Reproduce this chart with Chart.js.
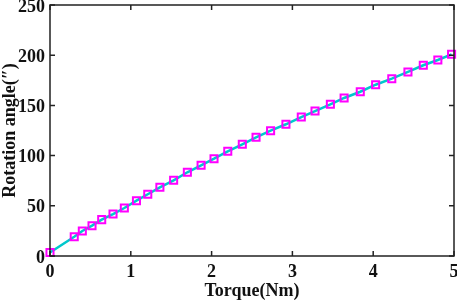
<!DOCTYPE html>
<html>
<head>
<meta charset="utf-8">
<script src="https://cdn.jsdelivr.net/npm/chart.js@4.4.1/dist/chart.umd.min.js"></script>
<style>
  html, body { margin: 0; padding: 0; background: #fff; overflow: hidden; }
  #wrap { width: 461px; height: 304px; position: relative; top: -2px; }
</style>
</head>
<body>
<div id="wrap"><canvas id="chart"></canvas></div>
<script>
'use strict';

/* ── Data ──────────────────────────────────────────────────── */
const torque = [0, 0.30, 0.40, 0.52, 0.64, 0.78, 0.92, 1.07, 1.21, 1.36,
  1.53, 1.70, 1.87, 2.03, 2.20, 2.38, 2.55, 2.73, 2.92, 3.11,
  3.28, 3.47, 3.64, 3.84, 4.03, 4.23, 4.43, 4.62, 4.80, 4.97];
const angle = [3.5, 19.2, 24.9, 30.2, 36.2, 41.8, 47.8, 55.1, 61.5, 68.4,
  75.4, 83.4, 90.3, 96.9, 104.3, 111.3, 118.2, 124.8, 131.2, 138.4,
  144.4, 151.1, 157.4, 163.6, 170.6, 176.6, 183.3, 190.0, 195.2, 200.9];
const xTicks = [0, 1, 2, 3, 4, 5];
const yTicks = [0, 50, 100, 150, 200, 250];

const FONT = { family: '"Liberation Serif", "Times New Roman", serif', size: 18, weight: 'bold' };

/* ── Box frame + inward ticks on all four sides ────────────── */
const framePlugin = {
  id: 'frame',
  afterDraw(chart) {
    const { ctx, chartArea: a, scales } = chart;
    const len = 5;
    ctx.save();
    ctx.strokeStyle = '#222';
    ctx.lineWidth = 1.5;
    ctx.strokeRect(a.left, a.top, a.right - a.left, a.bottom - a.top);
    ctx.beginPath();
    for (const v of xTicks) {
      const px = scales.x.getPixelForValue(v);
      ctx.moveTo(px, a.bottom); ctx.lineTo(px, a.bottom - len);
      ctx.moveTo(px, a.top);    ctx.lineTo(px, a.top + len);
    }
    for (const v of yTicks) {
      const py = scales.y.getPixelForValue(v);
      ctx.moveTo(a.left, py);  ctx.lineTo(a.left + len, py);
      ctx.moveTo(a.right, py); ctx.lineTo(a.right - len, py);
    }
    ctx.stroke();
    ctx.restore();
  }
};

new Chart(document.getElementById('chart'), {
  type: 'line',
  data: {
    datasets: [{
      data: torque.map((x, i) => ({ x, y: angle[i] })),
      borderColor: '#00c8cc',
      borderWidth: 2.5,
      pointStyle: 'rect',
      pointRadius: 5,
      pointBorderColor: '#ff00ff',
      pointBackgroundColor: 'rgba(0,0,0,0)',
      pointBorderWidth: 2,
      tension: 0,
      clip: false,
    }],
  },
  options: {
    responsive: true,
    maintainAspectRatio: false,
    animation: false,
    layout: { padding: { top: 5, right: 3, left: 0, bottom: 0 } },
    plugins: { legend: { display: false }, tooltip: { enabled: false } },
    scales: {
      x: {
        type: 'linear',
        min: 0, max: 5,
        afterBuildTicks: s => { s.ticks = xTicks.map(v => ({ value: v })); },
        afterFit: s => { s.height = 46; s.paddingLeft = 0; s.paddingRight = 0; },
        grid: { display: false, drawTicks: false },
        border: { display: false },
        ticks: { color: '#111', font: FONT, padding: 6, maxRotation: 0 },
        title: { display: true, text: 'Torque(Nm)', color: '#111', font: FONT, padding: { top: 0, bottom: 0 } },
      },
      y: {
        min: 0, max: 250,
        afterBuildTicks: s => { s.ticks = yTicks.map(v => ({ value: v })); },
        afterFit: s => { s.width = 50; s.paddingTop = 0; s.paddingBottom = 0; },
        grid: { display: false, drawTicks: false },
        border: { display: false },
        ticks: { color: '#111', font: FONT, padding: 5, labelOffset: 2 },
        title: { display: true, text: 'Rotation angle(″)', color: '#111', font: FONT, padding: { top: 0, bottom: 0 } },
      },
    },
  },
  plugins: [framePlugin],
});
</script>
</body>
</html>
